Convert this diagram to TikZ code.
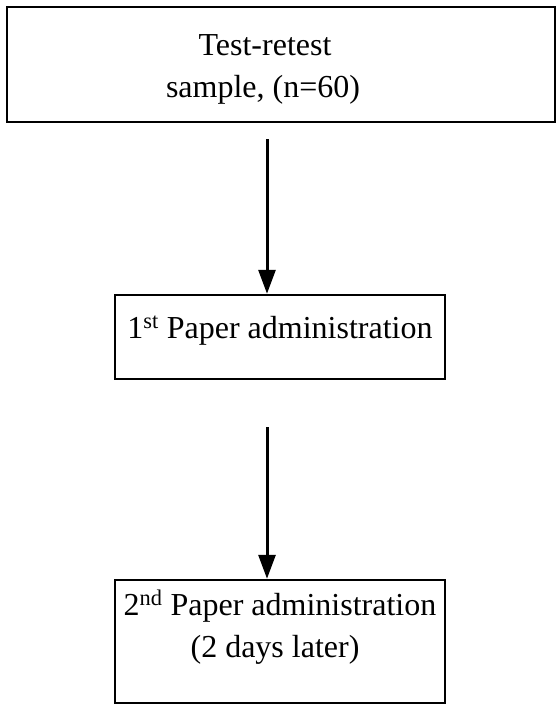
\documentclass[tikz,border=0pt]{standalone}
\usepackage{fontspec}
\setmainfont{Liberation Serif}
\usetikzlibrary{arrows.meta}
\begin{document}
\begin{tikzpicture}[x=1pt,y=-1pt,
  box/.style={draw, line width=2.5pt, rectangle, inner sep=0pt},
  txt/.style={font=\fontsize{32}{42}\selectfont, inner sep=0pt, anchor=base},
  arr/.style={line width=3pt, -{Triangle[length=24pt,width=17pt]}}]
\useasboundingbox (0,0) rectangle (557,704);
% boxes
\node[box, minimum width=548pt, minimum height=115pt] (top) at (281,64.5) {};
\node[box, minimum width=330pt, minimum height=84pt] (mid) at (280,337) {};
\node[box, minimum width=330pt, minimum height=123pt] (bot) at (280,641.5) {};
% texts
\node[txt] (t1) at (265,55) {Test-retest};
\node[txt] (t2) at (263,97) {sample, (n=60)};
\node[txt] (m1) at (280,338) {1\textsuperscript{st} Paper administration};
\node[txt] (b1) at (280,615) {2\textsuperscript{nd} Paper administration};
\node[txt] (b2) at (275,657) {(2 days later)};
% arrows
\coordinate (s1) at (267,139);
\coordinate (s2) at (267,427);
\draw[arr] (s1) -- (s1 |- mid.north);
\draw[arr] (s2) -- (s2 |- bot.north);
\end{tikzpicture}
\end{document}
